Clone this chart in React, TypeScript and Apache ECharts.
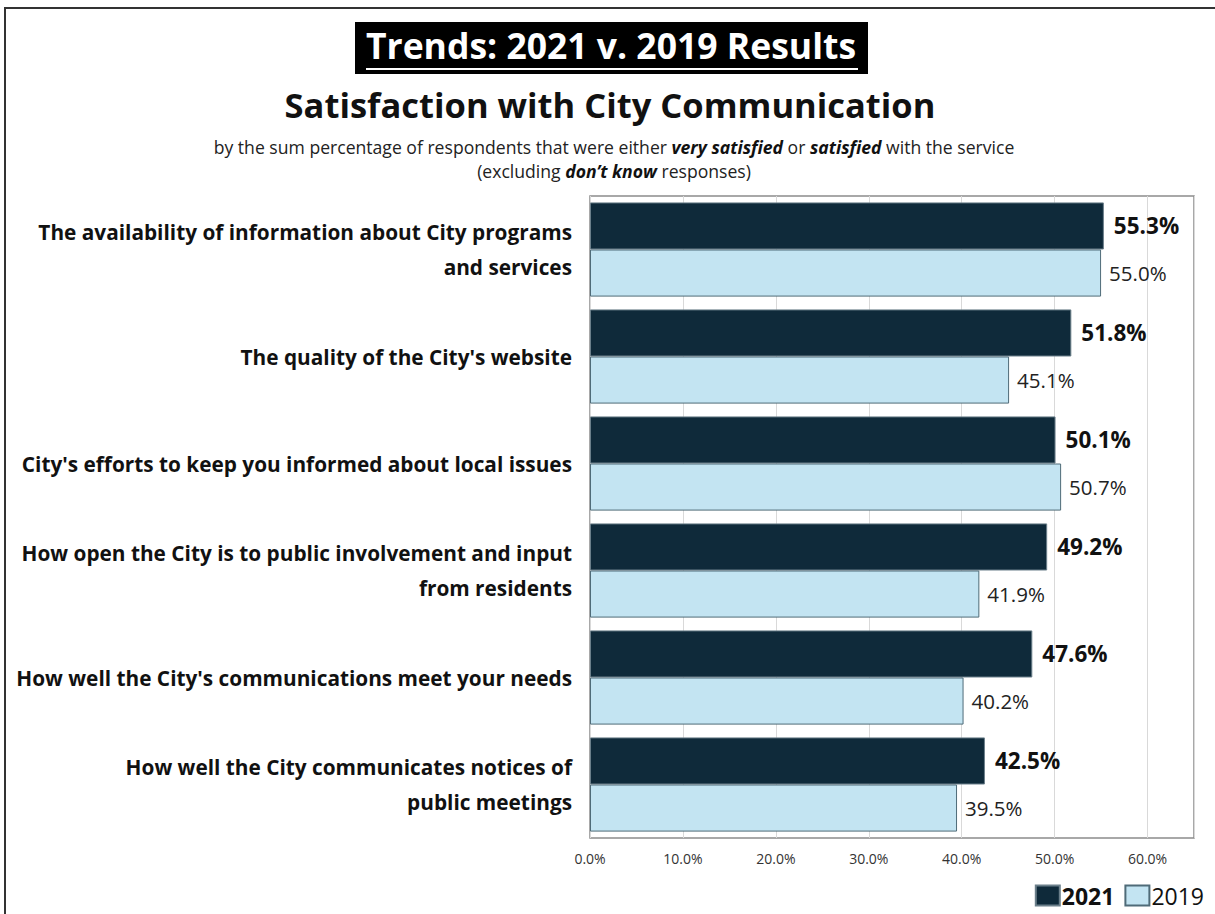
import React, { useEffect, useRef } from "react";
import * as echarts from "echarts";

const categories = [
  "The availability of information about City programs\nand services",
  "The quality of the City's website",
  "City's efforts to keep you informed about local issues",
  "How open the City is to public involvement and input\nfrom residents",
  "How well the City's communications meet your needs",
  "How well the City communicates notices of\npublic meetings",
];
const values2021 = [55.3, 51.8, 50.1, 49.2, 47.6, 42.5];
const values2019 = [55.0, 45.1, 50.7, 41.9, 40.2, 39.5];
const seriesNames = ["2021", "2019"];

const FONT = "'Open Sans', 'Noto Sans', sans-serif";

export default function App() {
  const ref = useRef<HTMLDivElement>(null);
  useEffect(() => {
    if (!ref.current) return;
    const chart = echarts.init(ref.current, undefined, { renderer: "svg" });
    chart.setOption({
      animation: false,
      backgroundColor: "#ffffff",
      textStyle: { fontFamily: FONT },
      grid: {
        left: 590,
        right: 21,
        top: 196,
        bottom: 76,
        show: true,
        borderColor: "#8c8c8c",
        borderWidth: 1.5,
        containLabel: false,
      },
      legend: {
        right: 6,
        bottom: 2,
        icon: "rect",
        itemWidth: 24,
        itemHeight: 20,
        itemGap: 10,
        textStyle: { fontFamily: FONT, fontSize: 23, color: "#111", padding: [0, 0, 0, -3] },
        data: [
          { name: seriesNames[0], textStyle: { fontWeight: "bold" } },
          { name: seriesNames[1], textStyle: { fontWeight: "normal" } },
        ],
      },
      xAxis: {
        type: "value",
        min: 0,
        max: 65,
        interval: 10,
        axisLine: { show: false },
        axisTick: { show: false },
        splitLine: { show: true, lineStyle: { color: "#d9d9d9", width: 1 } },
        axisLabel: {
          margin: 13,
          fontSize: 14,
          color: "#333",
          fontFamily: FONT,
          formatter: (v: number) => (v % 10 === 0 ? v.toFixed(1) + "%" : ""),
        },
      },
      yAxis: {
        type: "category",
        inverse: true,
        data: categories,
        axisLine: { show: false },
        axisTick: { show: false },
        axisLabel: {
          margin: 18,
          fontSize: 20.8,
          fontWeight: "bold",
          color: "#111",
          lineHeight: 35,
          align: "right",
          fontFamily: FONT,
        },
      },
      series: [
        {
          name: seriesNames[0],
          type: "bar",
          data: values2021,
          barGap: "0%",
          barCategoryGap: "12%",
          itemStyle: { color: "#0f2a3a", borderColor: "#6b7f8a", borderWidth: 1 },
          label: {
            show: true,
            position: "right",
            distance: 10,
            fontSize: 22.5,
            fontWeight: "bold",
            color: "#111",
            fontFamily: FONT,
            formatter: (p: any) => p.value.toFixed(1) + "%",
          },
        },
        {
          name: seriesNames[1],
          type: "bar",
          data: values2019,
          itemStyle: { color: "#c3e4f2", borderColor: "#4f6b78", borderWidth: 1 },
          label: {
            show: true,
            position: "right",
            distance: 8,
            fontSize: 20.5,
            color: "#222",
            fontFamily: FONT,
            formatter: (p: any) => p.value.toFixed(1) + "%",
          },
        },
      ],
      graphic: [
        {
          type: "rect",
          shape: { x: 5, y: 8, width: 1300, height: 1000 },
          style: { fill: "none", stroke: "#333", lineWidth: 2 },
          silent: true,
        },
        {
          type: "rect",
          shape: { x: 355, y: 22, width: 513, height: 52 },
          style: { fill: "#000" },
        },
        {
          type: "text",
          x: 611,
          y: 45,
          style: {
            text: "Trends: 2021 v. 2019 Results",
            fill: "#fff",
            font: "bold 35.5px " + FONT,
            align: "center",
            verticalAlign: "middle",
          },
        },
        {
          type: "line",
          shape: { x1: 366, y1: 69, x2: 858, y2: 69 },
          style: { stroke: "#fff", lineWidth: 2 },
        },
        {
          type: "text",
          x: 610,
          y: 104,
          style: {
            text: "Satisfaction with City Communication",
            fill: "#111",
            font: "bold 34.5px " + FONT,
            align: "center",
            verticalAlign: "middle",
          },
        },
        {
          type: "text",
          x: 614,
          y: 147,
          style: {
            text: "by the sum percentage of respondents that were either {bi|very satisfied} or {bi|satisfied} with the service",
            fill: "#222",
            font: "17.6px " + FONT,
            align: "center",
            verticalAlign: "middle",
            rich: {
              bi: { fontWeight: "bold", fontStyle: "italic", fontSize: 17.6, fontFamily: FONT, fill: "#111" },
            },
          },
        },
        {
          type: "text",
          x: 614,
          y: 171,
          style: {
            text: "(excluding {bi|don\u2019t know} responses)",
            fill: "#222",
            font: "17.6px " + FONT,
            align: "center",
            verticalAlign: "middle",
            rich: {
              bi: { fontWeight: "bold", fontStyle: "italic", fontSize: 17.6, fontFamily: FONT, fill: "#111" },
            },
          },
        },
      ],
    });
    return () => chart.dispose();
  }, []);
  return (
    <div
      ref={ref}
      style={{ position: "absolute", left: 0, top: 0, width: 1215, height: 914 }}
    />
  );
}
